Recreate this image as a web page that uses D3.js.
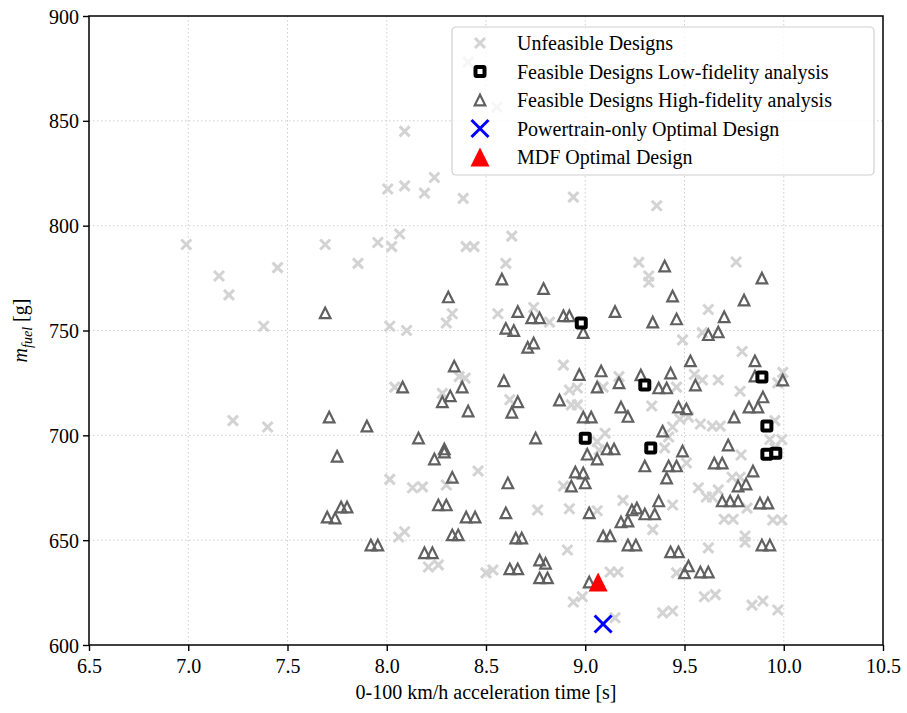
<!DOCTYPE html>
<html>
<head>
<meta charset="utf-8">
<script src="https://cdn.jsdelivr.net/npm/d3@7"></script>
<style>
  body { margin: 0; background: #fff; }
  text { font-family: "Liberation Serif", "DejaVu Serif", serif; fill: #000; }
</style>
</head>
<body>
<div class="chart"></div>
<script>
// Design space scatter: fuel mass vs acceleration time

var unfeasibleX = [6.99, 7.155, 7.205, 7.45, 7.38, 7.225, 7.40, 7.69, 7.855, 7.955, 8.005, 8.025, 8.065, 8.09, 8.19, 8.24, 8.385, 8.09, 8.555, 8.41,
  8.015, 8.10, 8.40, 8.44, 8.63, 8.60, 8.33, 8.30, 8.56, 8.74, 8.82, 8.94, 9.27, 9.36, 9.32, 9.32, 9.76, 9.62, 8.04, 8.015,
  8.06, 8.09, 8.89, 8.365, 8.395, 8.28, 8.62, 8.92, 8.96, 8.93, 8.96, 9.09, 9.17, 9.10, 9.06, 9.07, 8.46, 8.13, 8.18, 8.30,
  8.89, 8.76, 8.92, 9.06, 9.19, 9.49, 9.59, 9.79, 9.995, 9.97, 9.55, 9.59, 9.67, 9.46, 9.78, 9.335, 9.477, 9.44, 9.42, 9.58,
  9.64, 9.68, 9.52, 9.955, 9.93, 9.99, 9.955, 9.785, 9.51, 9.40, 9.74, 9.78, 9.57, 9.61, 9.67, 9.64, 9.44, 9.815, 9.70, 9.745,
  9.945, 9.99, 9.34, 9.805, 9.805, 8.21, 8.26, 8.50, 8.535, 8.91, 8.94, 8.985, 9.125, 9.165, 9.15, 9.62, 9.46, 9.60, 9.655, 9.39,
  9.44, 9.84, 9.895, 9.97];
var unfeasibleY = [791, 776, 767, 780, 752, 707, 704, 791, 782, 792, 817.5, 790, 796, 819, 815.5, 823, 813, 845, 856.5, 878,
  752, 750, 790, 790, 795, 782, 758, 753.6, 758, 761, 754, 813.6, 782.5, 809.5, 776, 773, 782.7, 760, 723, 679,
  651.5, 654, 733.5, 728, 727.3, 720, 717, 721.6, 722.6, 714.5, 714.5, 723, 728, 701, 697, 693, 683, 675, 675.4, 676.3,
  675.8, 664.4, 665, 664, 669, 745.5, 749, 740, 730, 725, 729, 726.4, 726.4, 723, 721, 714, 707.8, 704, 699.2, 705.4,
  704.4, 704.4, 708.7, 707, 698, 698, 694, 690.6, 686.8, 694, 680, 680, 675, 670.6, 674, 670.6, 666.8, 665.3, 660, 660,
  659.6, 659.6, 655, 652, 649, 637.2, 638.2, 634.4, 635.8, 645.3, 620.5, 623, 634.8, 634.8, 613, 646.3, 634.4, 623, 624, 615.3,
  616.2, 619, 621, 616.7];

var lowFiX = [8.98, 9.30, 9.00, 9.33, 9.89, 9.915, 9.915, 9.96];
var lowFiY = [753.6, 724, 698.6, 694, 727.8, 704.4, 691, 691.5];

var highFiX = [7.69, 8.58, 8.31, 8.79, 8.66, 8.73, 8.77, 8.89, 8.92, 9.15, 8.60, 8.64, 8.71, 8.74, 8.99, 9.40, 9.89, 9.44, 9.80, 9.34,
  9.46, 9.70, 9.62, 9.67, 8.08, 7.71, 7.90, 7.75, 7.77, 7.80, 7.70, 7.74, 7.92, 7.955, 8.34, 8.38, 8.32, 8.28, 8.41, 8.59,
  8.66, 8.63, 8.87, 8.97, 9.08, 9.06, 9.17, 9.18, 9.215, 8.99, 9.03, 9.01, 9.06, 9.11, 9.145, 8.95, 8.99, 8.93, 9.00, 9.02,
  9.235, 9.26, 9.18, 9.215, 9.09, 9.125, 8.75, 8.61, 8.60, 8.65, 8.68, 8.16, 8.29, 8.29, 8.24, 8.33, 8.26, 8.30, 8.40, 8.445,
  8.33, 8.36, 9.53, 9.855, 9.28, 9.43, 9.37, 9.41, 9.555, 9.855, 9.995, 9.895, 9.825, 9.87, 9.47, 9.51, 9.75, 9.39, 9.72, 9.49,
  9.30, 9.42, 9.46, 9.65, 9.69, 9.41, 9.845, 9.77, 9.81, 9.69, 9.73, 9.77, 9.88, 9.92, 9.37, 9.30, 9.35, 8.19, 8.23, 8.77,
  8.80, 8.77, 8.81, 8.62, 8.66, 9.215, 9.255, 9.02, 9.43, 9.47, 9.52, 9.50, 9.58, 9.62, 9.89, 9.93];
var highFiY = [758.4, 774.5, 766, 770, 759, 756, 756, 757, 757, 759, 751, 750, 742, 744, 749, 780.7, 775, 766.4, 764.5, 754,
  755.5, 756.5, 748, 749.3, 723, 708.7, 704.4, 690, 665.8, 665.8, 661, 660.5, 647.7, 647.7, 733, 723, 718.8, 716, 711.6, 726,
  716, 711, 716.8, 729, 730.7, 723, 725, 713.5, 709, 708.7, 708.7, 691, 688.7, 693.5, 693.5, 682.5, 682, 675.8, 677.3, 663,
  664.4, 665.3, 658.7, 659.1, 652, 652, 698.7, 677.3, 663, 651, 651, 698.7, 693.5, 692, 688.7, 680, 666.8, 666.8, 661, 661,
  652.5, 652.5, 735.5, 735.5, 728.8, 729.7, 722.6, 722.6, 724, 728.3, 726.4, 718.3, 713.5, 713.5, 713.5, 712.6, 708.7, 702, 695.4, 692.5,
  685.4, 685.4, 685.4, 686.8, 686.8, 679.6, 683, 675.8, 676.8, 668.7, 668.7, 668.7, 667.7, 667.7, 668.7, 662.5, 662.5, 644, 644, 640.5,
  639, 632, 632, 636.3, 636.3, 647.7, 647.7, 630, 644.4, 644.4, 637.7, 634.4, 634.8, 634.8, 647.7, 647.7];

var powertrainOpt = [9.09, 610];
var mdfOpt = [9.065, 630];

var xTicks = [6.5, 7.0, 7.5, 8.0, 8.5, 9.0, 9.5, 10.0, 10.5];
var yTicks = [600, 650, 700, 750, 800, 850, 900];

var legendLabels = ["Unfeasible Designs", "Feasible Designs Low-fidelity analysis", "Feasible Designs High-fidelity analysis",
  "Powertrain-only Optimal Design", "MDF Optimal Design"];

var svgWidth = 907;
var svgHeight = 713;

var margin = {
  top: 16,
  right: 24,
  bottom: 68,
  left: 89
};

var width = svgWidth - margin.left - margin.right;
var height = svgHeight - margin.top - margin.bottom;

var svg = d3.select(".chart")
  .append("svg")
  .attr("width", svgWidth)
  .attr("height", svgHeight);

var chartGroup = svg.append("g")
  .attr("transform", `translate(${margin.left}, ${margin.top})`);

var xScale = d3.scaleLinear().domain([6.5, 10.5]).range([0, width]);
var yScale = d3.scaleLinear().domain([600, 900]).range([height, 0]);

// grid
chartGroup.append("g").selectAll("line")
  .data(xTicks.slice(1, -1))
  .enter().append("line")
  .attr("x1", d => xScale(d)).attr("x2", d => xScale(d))
  .attr("y1", 0).attr("y2", height)
  .attr("stroke", "#cfcfcf").attr("stroke-width", 1).attr("stroke-dasharray", "1.5,2.5");

chartGroup.append("g").selectAll("line")
  .data(yTicks.slice(1, -1))
  .enter().append("line")
  .attr("y1", d => yScale(d)).attr("y2", d => yScale(d))
  .attr("x1", 0).attr("x2", width)
  .attr("stroke", "#cfcfcf").attr("stroke-width", 1).attr("stroke-dasharray", "1.5,2.5");

// axes
var xAxis = d3.axisBottom(xScale).tickValues(xTicks).tickFormat(d3.format(".1f")).tickSizeOuter(0).tickSize(6).tickPadding(4);
var yAxis = d3.axisLeft(yScale).tickValues(yTicks).tickFormat(d3.format("d")).tickSizeOuter(0).tickSize(6).tickPadding(4);

var gx = chartGroup.append("g")
  .attr("transform", `translate(0, ${height})`)
  .call(xAxis);
var gy = chartGroup.append("g")
  .call(yAxis);

[gx, gy].forEach(function(g) {
  g.select(".domain").remove();
  g.selectAll(".tick line").attr("stroke", "#000").attr("stroke-width", 1.4);
  g.selectAll(".tick text")
    .style("font-family", "'Liberation Serif', 'DejaVu Serif', serif")
    .style("font-size", "20px")
    .attr("fill", "#000");
});
gx.selectAll(".tick text").attr("dy", "0.9em");
gy.selectAll(".tick text").attr("dy", "0.35em");

// markers
function xPath(s) {
  return `M${-s},${-s}L${s},${s}M${-s},${s}L${s},${-s}`;
}
function triPath(s) {
  return `M0,${-s}L${-s},${s}L${s},${s}Z`;
}

chartGroup.append("g").selectAll("path")
  .data(unfeasibleX.map((d, i) => [d, unfeasibleY[i]]))
  .enter().append("path")
  .attr("transform", d => `translate(${xScale(d[0])}, ${yScale(d[1])})`)
  .attr("d", xPath(5))
  .attr("fill", "none")
  .attr("stroke", "#d3d3d3")
  .attr("stroke-width", 3);

chartGroup.append("g").selectAll("path")
  .data(highFiX.map((d, i) => [d, highFiY[i]]))
  .enter().append("path")
  .attr("transform", d => `translate(${xScale(d[0])}, ${yScale(d[1])})`)
  .attr("d", triPath(5.3))
  .attr("fill", "none")
  .attr("stroke", "#606060")
  .attr("stroke-width", 2.2)
  .attr("stroke-linejoin", "miter");

chartGroup.append("g").selectAll("rect")
  .data(lowFiX.map((d, i) => [d, lowFiY[i]]))
  .enter().append("rect")
  .attr("x", d => xScale(d[0]) - 4.5)
  .attr("y", d => yScale(d[1]) - 4.5)
  .attr("width", 9)
  .attr("height", 9)
  .attr("rx", 1)
  .attr("fill", "#fff")
  .attr("stroke", "#000")
  .attr("stroke-width", 4);

chartGroup.append("path")
  .attr("transform", `translate(${xScale(powertrainOpt[0])}, ${yScale(powertrainOpt[1])})`)
  .attr("d", xPath(8.5))
  .attr("stroke", "#0000ff")
  .attr("stroke-width", 3)
  .attr("fill", "none");

chartGroup.append("path")
  .attr("transform", `translate(${xScale(mdfOpt[0])}, ${yScale(mdfOpt[1])})`)
  .attr("d", triPath(9.5))
  .attr("fill", "#ff0000");

// frame
chartGroup.append("rect")
  .attr("width", width)
  .attr("height", height)
  .attr("fill", "none")
  .attr("stroke", "#000")
  .attr("stroke-width", 1.5);

// legend
var legend = chartGroup.append("g")
  .attr("transform", `translate(${452 - margin.left}, ${27 - margin.top})`);

legend.append("rect")
  .attr("width", 422)
  .attr("height", 148)
  .attr("rx", 4)
  .attr("fill", "#fff")
  .attr("fill-opacity", 0.8)
  .attr("stroke", "#d0d0d0")
  .attr("stroke-width", 1.2);

var rows = legend.selectAll(".row")
  .data(legendLabels)
  .enter().append("g")
  .attr("transform", (d, i) => `translate(0, ${16 + i * 28.5})`);

rows.append("text")
  .attr("x", 65)
  .attr("dy", "0.35em")
  .attr("font-size", 20)
  .text(d => d);

rows.each(function(d, i) {
  var r = d3.select(this);
  if (i === 0) {
    r.append("path").attr("transform", "translate(28,0)").attr("d", xPath(5))
      .attr("stroke", "#d3d3d3").attr("stroke-width", 3).attr("fill", "none");
  } else if (i === 1) {
    r.append("rect").attr("x", 23.5).attr("y", -4.5).attr("width", 9).attr("height", 9).attr("rx", 1)
      .attr("fill", "#fff").attr("stroke", "#000").attr("stroke-width", 4);
  } else if (i === 2) {
    r.append("path").attr("transform", "translate(28,0)").attr("d", triPath(5.3))
      .attr("fill", "none").attr("stroke", "#606060").attr("stroke-width", 2.2);
  } else if (i === 3) {
    r.append("path").attr("transform", "translate(28,0)").attr("d", xPath(8.5))
      .attr("stroke", "#0000ff").attr("stroke-width", 3).attr("fill", "none");
  } else {
    r.append("path").attr("transform", "translate(28,0)").attr("d", triPath(9.5))
      .attr("fill", "#ff0000");
  }
});

// axis labels
chartGroup.append("text")
  .attr("x", width / 2)
  .attr("y", height + 54)
  .attr("text-anchor", "middle")
  .attr("font-size", 20)
  .text("0-100 km/h acceleration time [s]");

var yLabel = chartGroup.append("text")
  .attr("transform", `translate(${-margin.left + 27}, ${height / 2}) rotate(-90)`)
  .attr("text-anchor", "middle")
  .attr("font-size", 20);
yLabel.append("tspan").attr("font-style", "italic").text("m");
yLabel.append("tspan").attr("font-style", "italic").attr("font-size", 14).attr("dy", 5).text("fuel");
yLabel.append("tspan").attr("dy", -5).text(" [g]");
</script>
</body>
</html>
